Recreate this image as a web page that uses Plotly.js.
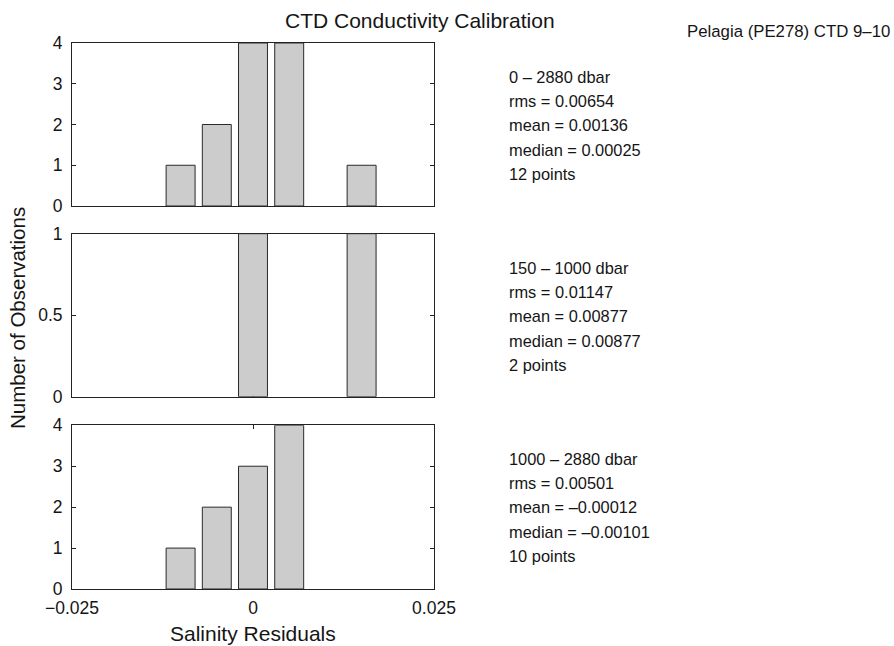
<!DOCTYPE html>
<html>
<head>
<meta charset="utf-8">
<script src="https://cdn.plot.ly/plotly-3.0.1.min.js"></script>
<style>html,body{margin:0;padding:0;background:#fff;}#chart{width:894px;height:646px;}</style>
</head>
<body>
<div id="chart"></div>
<script>
// ---- data ----
const binCenters = [-0.010, -0.005, 0.000, 0.005, 0.010, 0.015];
const countsAll  = [1, 2, 4, 4, 0, 1];   // 0 - 2880 dbar
const countsMid  = [0, 0, 1, 0, 0, 1];   // 150 - 1000 dbar
const countsDeep = [1, 2, 3, 4, 0, 0];   // 1000 - 2880 dbar

const xTickVals = [-0.025, 0, 0.025];
const xTickText = ["\u22120.025", "0", "0.025"];
const yTickValsCount = [0, 1, 2, 3, 4];
const yTickValsMid = [0, 0.5, 1];

const statsAll  = ["0 \u2013 2880 dbar", "rms = 0.00654", "mean = 0.00136", "median = 0.00025", "12 points"];
const statsMid  = ["150 \u2013 1000 dbar", "rms = 0.01147", "mean = 0.00877", "median = 0.00877", "2 points"];
const statsDeep = ["1000 \u2013 2880 dbar", "rms = 0.00501", "mean = \u20130.00012", "median = \u20130.00101", "10 points"];

const titleText = "CTD Conductivity Calibration";
const cruiseText = "Pelagia (PE278) CTD 9\u201310";
const xTitle = "Salinity Residuals";
const yTitle = "Number of Observations";

// ---- layout helpers ----
const W = 894, H = 646;
const FONT = "Liberation Sans, Arial, Helvetica, sans-serif";
const TXT = "#151515";
const px = x => x / W;
const py = y => 1 - y / H;

const barStyle = {
  type: "bar",
  width: 0.004,
  marker: {color: "#cccccc", line: {color: "#2a2a2a", width: 1}},
  hoverinfo: "x+y",
  showlegend: false
};
// empty bins draw nothing (as in the original histogram)
const visible = arr => arr.map(v => (v === 0 ? null : v));

const traces = [
  Object.assign({}, barStyle, {x: binCenters, y: visible(countsAll),  xaxis: "x",  yaxis: "y"}),
  Object.assign({}, barStyle, {x: binCenters, y: visible(countsMid),  xaxis: "x2", yaxis: "y2"}),
  Object.assign({}, barStyle, {x: binCenters, y: visible(countsDeep), xaxis: "x3", yaxis: "y3"})
];

const xDomain = [px(72), px(434)];
function xAxis(anchor, labels) {
  return {
    domain: xDomain, anchor: anchor, range: [-0.025, 0.025],
    tickvals: xTickVals, ticktext: xTickText, showticklabels: labels,
    ticks: "inside", ticklen: 4, tickcolor: "#222", tickwidth: 1,
    showline: true, linecolor: "#222", linewidth: 1, mirror: "ticks",
    showgrid: false, zeroline: false, layer: "below traces",
    tickfont: {family: FONT, size: 17.5, color: TXT}, ticklabelstandoff: 3,
    fixedrange: true
  };
}
function yAxis(anchor, dom, range, vals) {
  return {
    domain: dom, anchor: anchor, range: range,
    tickvals: vals, ticktext: vals.map(v => String(v)),
    ticks: "inside", ticklen: 4, tickcolor: "#222", tickwidth: 1,
    showline: true, linecolor: "#222", linewidth: 1, mirror: "ticks",
    showgrid: false, zeroline: false, layer: "below traces",
    tickfont: {family: FONT, size: 17.5, color: TXT}, ticklabelstandoff: 5,
    fixedrange: true
  };
}

const annotations = [];
function addText(text, x, y, size, opts) {
  annotations.push(Object.assign({
    text: text, xref: "paper", yref: "paper", x: px(x), y: py(y),
    xanchor: "left", yanchor: "middle", showarrow: false,
    font: {family: FONT, size: size, color: TXT}
  }, opts || {}));
}
function addStats(lines, y0) {
  lines.forEach((t, i) => addText(t, 507, y0 + i * 24.2, 16.4));
}
addStats(statsAll, 77);
addStats(statsMid, 268);
addStats(statsDeep, 459);
addText(titleText, 420, 20, 21, {xanchor: "center"});
addText(cruiseText, 685, 31, 16.8);
addText(xTitle, 253, 633, 21, {xanchor: "center"});
addText(yTitle, 17, 318, 20.5, {xanchor: "center", textangle: -90});

const layout = {
  width: W, height: H, autosize: false,
  margin: {l: 0, r: 0, t: 0, b: 0, pad: 0},
  paper_bgcolor: "#fff", plot_bgcolor: "#fff",
  showlegend: false, bargap: 0,
  xaxis:  xAxis("y",  false),
  xaxis2: xAxis("y2", false),
  xaxis3: xAxis("y3", true),
  yaxis:  yAxis("x",  [py(206), py(43)],    [0, 4], yTickValsCount),
  yaxis2: yAxis("x2", [py(396.7), py(233.7)], [0, 1], yTickValsMid),
  yaxis3: yAxis("x3", [py(589), py(425.3)],  [0, 4], yTickValsCount),
  annotations: annotations
};

Plotly.newPlot("chart", traces, layout, {displayModeBar: false, staticPlot: true});
</script>
</body>
</html>
